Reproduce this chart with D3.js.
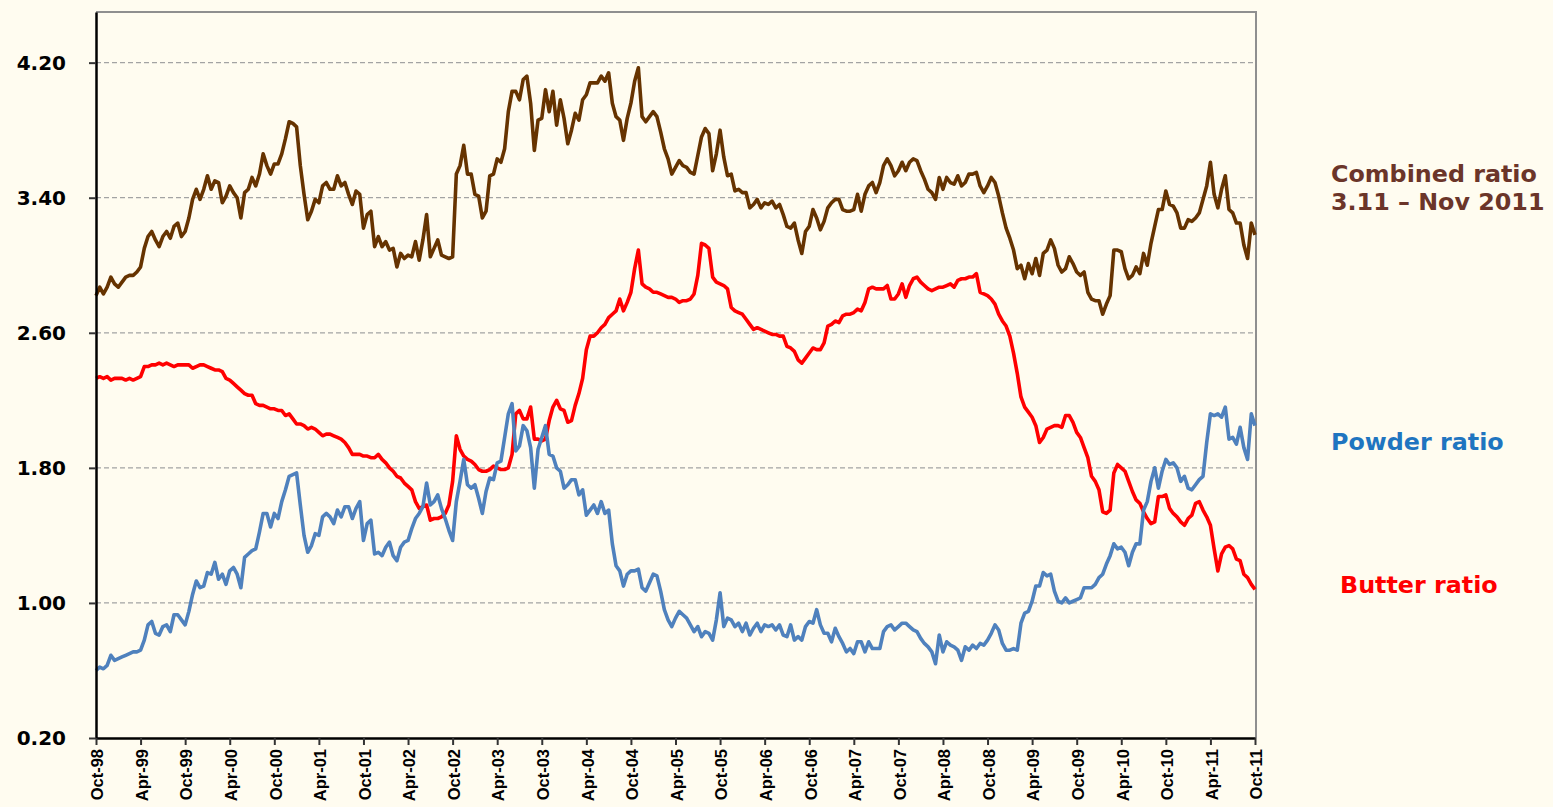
<!DOCTYPE html>
<html>
<head>
<meta charset="utf-8">
<script src="https://cdn.jsdelivr.net/npm/d3@7"></script>
<style>
  body { margin: 0; background: #fffcf0; }
</style>
</head>
<body>
<div id="viz"></div>
<script>
// x axis labels, one every 6 months from Oct-98
var tickLabels = ['Oct-98','Apr-99','Oct-99','Apr-00','Oct-00','Apr-01','Oct-01','Apr-02','Oct-02',
  'Apr-03','Oct-03','Apr-04','Oct-04','Apr-05','Oct-05','Apr-06','Oct-06','Apr-07','Oct-07',
  'Apr-08','Oct-08','Apr-09','Oct-09','Apr-10','Oct-10','Apr-11','Oct-11'];

var yTicks = [0.20, 1.00, 1.80, 2.60, 3.40, 4.20];

// half-monthly readings, Oct-98 .. Oct-11
var combined = [
  2.82,2.87,2.83,2.87,2.93,2.89,2.87,2.90,2.93,2.94,2.94,2.96,
  2.99,3.10,3.17,3.20,3.15,3.11,3.17,3.20,3.16,3.23,3.25,3.17,
  3.20,3.28,3.39,3.45,3.39,3.45,3.53,3.45,3.50,3.49,3.37,3.41,
  3.47,3.43,3.40,3.28,3.43,3.45,3.52,3.47,3.54,3.66,3.59,3.54,
  3.60,3.60,3.66,3.75,3.85,3.84,3.82,3.59,3.42,3.27,3.32,3.39,
  3.37,3.47,3.49,3.45,3.45,3.53,3.47,3.49,3.42,3.36,3.44,3.42,
  3.22,3.30,3.32,3.11,3.17,3.11,3.14,3.09,3.10,2.99,3.07,3.04,
  3.06,3.05,3.14,3.03,3.15,3.30,3.05,3.10,3.15,3.06,3.05,3.04,
  3.05,3.54,3.59,3.71,3.54,3.54,3.42,3.41,3.28,3.32,3.53,3.54,
  3.63,3.61,3.69,3.91,4.03,4.03,3.98,4.10,4.12,3.96,3.68,3.86,
  3.87,4.04,3.91,4.03,3.83,3.98,3.87,3.72,3.80,3.90,3.86,3.98,
  4.01,4.08,4.08,4.08,4.12,4.09,4.14,3.96,3.88,3.86,3.74,3.87,
  3.96,4.09,4.17,3.88,3.85,3.88,3.91,3.88,3.79,3.69,3.63,3.54,
  3.58,3.62,3.59,3.58,3.55,3.54,3.65,3.76,3.81,3.78,3.56,3.66,
  3.80,3.64,3.53,3.54,3.44,3.45,3.43,3.43,3.34,3.36,3.39,3.34,
  3.37,3.36,3.38,3.34,3.36,3.30,3.23,3.22,3.25,3.15,3.07,3.20,
  3.23,3.33,3.28,3.21,3.26,3.34,3.37,3.39,3.39,3.33,3.32,3.32,
  3.33,3.42,3.32,3.42,3.47,3.49,3.43,3.49,3.59,3.63,3.59,3.53,
  3.56,3.61,3.56,3.61,3.63,3.62,3.56,3.51,3.45,3.43,3.39,3.52,
  3.45,3.52,3.49,3.48,3.53,3.47,3.49,3.54,3.54,3.55,3.47,3.43,
  3.47,3.52,3.49,3.41,3.31,3.22,3.16,3.09,2.98,3.00,2.92,3.01,
  2.95,3.04,2.94,3.07,3.09,3.15,3.10,3.00,2.96,2.98,3.05,3.01,
  2.96,2.94,2.96,2.84,2.80,2.79,2.79,2.71,2.77,2.82,3.09,3.09,
  3.08,2.98,2.92,2.94,2.99,2.95,3.07,3.00,3.13,3.23,3.33,3.33,
  3.44,3.36,3.35,3.31,3.22,3.22,3.27,3.26,3.28,3.31,3.39,3.47,
  3.61,3.42,3.34,3.45,3.53,3.33,3.31,3.25,3.25,3.12,3.04,3.25,
  3.18];

var butter = [
  2.33,2.34,2.33,2.34,2.32,2.33,2.33,2.33,2.32,2.33,2.32,2.33,
  2.34,2.40,2.40,2.41,2.41,2.42,2.41,2.42,2.41,2.40,2.41,2.41,
  2.41,2.41,2.39,2.40,2.41,2.41,2.40,2.39,2.38,2.38,2.37,2.33,
  2.32,2.30,2.28,2.26,2.24,2.23,2.23,2.18,2.17,2.17,2.16,2.15,
  2.15,2.14,2.14,2.11,2.12,2.09,2.06,2.06,2.05,2.03,2.04,2.03,
  2.01,1.99,2.00,2.00,1.99,1.98,1.97,1.95,1.92,1.88,1.88,1.88,
  1.87,1.87,1.86,1.86,1.88,1.85,1.83,1.80,1.78,1.75,1.74,1.71,
  1.69,1.67,1.60,1.56,1.57,1.58,1.49,1.50,1.50,1.51,1.53,1.58,
  1.72,1.99,1.91,1.87,1.85,1.84,1.82,1.79,1.78,1.78,1.79,1.81,
  1.80,1.79,1.79,1.80,1.88,2.12,2.14,2.09,2.09,2.16,1.97,1.97,
  1.96,1.97,2.08,2.16,2.20,2.15,2.14,2.07,2.08,2.17,2.24,2.33,
  2.50,2.58,2.58,2.60,2.63,2.65,2.69,2.71,2.73,2.80,2.73,2.78,
  2.84,2.98,3.09,2.89,2.87,2.86,2.84,2.84,2.83,2.82,2.81,2.81,
  2.80,2.78,2.79,2.79,2.80,2.83,2.94,3.13,3.12,3.10,2.93,2.90,
  2.89,2.88,2.86,2.75,2.73,2.72,2.71,2.68,2.65,2.62,2.63,2.62,
  2.61,2.60,2.59,2.59,2.58,2.58,2.52,2.51,2.49,2.44,2.42,2.45,
  2.48,2.51,2.50,2.50,2.54,2.64,2.65,2.67,2.66,2.70,2.71,2.71,
  2.72,2.74,2.73,2.78,2.86,2.87,2.86,2.86,2.86,2.88,2.80,2.80,
  2.83,2.89,2.81,2.88,2.92,2.93,2.90,2.88,2.86,2.85,2.86,2.87,
  2.87,2.88,2.89,2.87,2.91,2.92,2.92,2.93,2.93,2.95,2.84,2.83,
  2.82,2.80,2.77,2.71,2.67,2.64,2.58,2.48,2.36,2.22,2.16,2.13,
  2.10,2.05,1.95,1.98,2.03,2.04,2.05,2.05,2.04,2.11,2.11,2.07,
  2.01,1.98,1.92,1.86,1.75,1.72,1.67,1.54,1.53,1.55,1.77,1.82,
  1.80,1.78,1.72,1.66,1.61,1.59,1.54,1.50,1.47,1.48,1.63,1.63,
  1.64,1.56,1.53,1.51,1.48,1.46,1.50,1.52,1.59,1.60,1.55,1.51,
  1.46,1.32,1.19,1.29,1.33,1.34,1.32,1.26,1.25,1.17,1.15,1.11,
  1.08];

var powder = [
  0.60,0.62,0.61,0.63,0.69,0.66,0.67,0.68,0.69,0.70,0.71,0.71,
  0.72,0.78,0.87,0.89,0.82,0.81,0.86,0.87,0.83,0.93,0.93,0.90,
  0.87,0.95,1.05,1.13,1.09,1.10,1.18,1.17,1.24,1.14,1.17,1.11,
  1.19,1.21,1.17,1.09,1.27,1.29,1.31,1.32,1.42,1.53,1.53,1.45,
  1.53,1.50,1.60,1.67,1.75,1.76,1.77,1.58,1.40,1.30,1.34,1.41,
  1.40,1.51,1.53,1.51,1.47,1.55,1.51,1.57,1.57,1.50,1.56,1.60,
  1.37,1.47,1.49,1.29,1.30,1.28,1.33,1.36,1.28,1.25,1.33,1.36,
  1.37,1.44,1.50,1.53,1.57,1.71,1.58,1.60,1.64,1.56,1.50,1.43,
  1.37,1.60,1.72,1.85,1.70,1.68,1.70,1.62,1.53,1.66,1.74,1.73,
  1.83,1.84,1.98,2.12,2.18,1.90,1.93,2.05,2.02,1.92,1.68,1.91,
  1.98,2.05,1.88,1.87,1.80,1.78,1.68,1.70,1.73,1.73,1.64,1.67,
  1.52,1.55,1.58,1.53,1.60,1.53,1.55,1.35,1.22,1.19,1.10,1.17,
  1.19,1.19,1.20,1.09,1.07,1.12,1.17,1.16,1.07,0.96,0.90,0.86,
  0.91,0.95,0.93,0.91,0.87,0.83,0.86,0.80,0.83,0.82,0.78,0.90,
  1.06,0.86,0.91,0.90,0.86,0.88,0.83,0.88,0.81,0.85,0.88,0.83,
  0.87,0.86,0.87,0.84,0.87,0.81,0.80,0.87,0.78,0.80,0.78,0.86,
  0.89,0.88,0.96,0.87,0.82,0.82,0.77,0.85,0.80,0.76,0.71,0.73,
  0.70,0.77,0.77,0.71,0.77,0.73,0.73,0.73,0.83,0.86,0.87,0.84,
  0.86,0.88,0.88,0.86,0.84,0.83,0.79,0.76,0.74,0.71,0.64,0.81,
  0.71,0.77,0.75,0.74,0.72,0.66,0.74,0.72,0.75,0.73,0.76,0.75,
  0.78,0.82,0.87,0.84,0.76,0.72,0.72,0.73,0.72,0.88,0.94,0.95,
  1.01,1.10,1.10,1.18,1.16,1.17,1.07,1.01,1.00,1.03,1.00,1.01,
  1.02,1.03,1.09,1.09,1.09,1.11,1.15,1.17,1.23,1.28,1.35,1.32,
  1.33,1.30,1.22,1.30,1.35,1.35,1.55,1.60,1.72,1.80,1.68,1.78,
  1.85,1.82,1.83,1.80,1.72,1.75,1.68,1.67,1.70,1.73,1.75,1.95,
  2.12,2.11,2.12,2.10,2.16,1.97,1.98,1.94,2.04,1.92,1.85,2.12,
  2.05];

var width = 1553,
    height = 807,
    plotLeft = 96,
    plotRight = 1256,
    plotTop = 12,
    plotBottom = 738;

// months since Oct-98 for each reading
var months = combined.map(function(d, i) { return i / 2; });

var xScale = d3.scaleLinear()
  .domain([0, 156])
  .range([plotLeft, 1255]);

var yScale = d3.scaleLinear()
  .domain([0.2, 4.5])
  .range([plotBottom, plotTop]);

var svg = d3.select('#viz').append('svg')
  .attr('width', width)
  .attr('height', height)
  .style('background', '#fffcf0');

// dashed gridlines
svg.append('g').selectAll('line')
  .data(yTicks.slice(1))
  .enter().append('line')
    .attr('x1', plotLeft)
    .attr('x2', plotRight)
    .attr('y1', function(d) { return yScale(d); })
    .attr('y2', function(d) { return yScale(d); })
    .attr('stroke', '#a3a3a3')
    .attr('stroke-width', 1.2)
    .attr('stroke-dasharray', '5,3');

// top and right frame
svg.append('path')
  .attr('d', 'M' + plotLeft + ',' + plotTop + 'H' + plotRight + 'V' + plotBottom)
  .attr('fill', 'none')
  .attr('stroke', '#8f8f8f')
  .attr('stroke-width', 2);

var line = d3.line()
  .x(function(d, i) { return xScale(months[i]); })
  .y(function(d) { return yScale(d); });

var series = [
  { values: butter, color: '#ff0000' },
  { values: powder, color: '#4f81bd' },
  { values: combined, color: '#663300' }
];

svg.append('g').selectAll('path')
  .data(series)
  .enter().append('path')
    .attr('d', function(d) { return line(d.values); })
    .attr('fill', 'none')
    .attr('stroke', function(d) { return d.color; })
    .attr('stroke-width', 3.6)
    .attr('stroke-linejoin', 'round');

// y axis
var yAxis = svg.append('g')
  .attr('transform', 'translate(' + plotLeft + ',0)')
  .call(d3.axisLeft(yScale)
    .tickValues(yTicks)
    .tickFormat(d3.format('.2f'))
    .tickSize(7)
    .tickSizeOuter(0)
    .tickPadding(23));

yAxis.select('.domain').attr('stroke', '#000').attr('stroke-width', 2.5);
yAxis.selectAll('.tick line').attr('stroke', '#333').attr('stroke-width', 2);
yAxis.selectAll('text')
  .style('font-family', '"DejaVu Sans", Verdana, sans-serif')
  .style('font-weight', 'bold')
  .style('font-size', '20px')
  .attr('fill', '#000');

// x axis
var xAxis = svg.append('g')
  .attr('transform', 'translate(0,' + plotBottom + ')')
  .call(d3.axisBottom(xScale)
    .tickValues(d3.range(0, 157, 6))
    .tickFormat(function(d, i) { return tickLabels[i]; })
    .tickSize(7)
    .tickSizeOuter(0));

xAxis.select('.domain').attr('stroke', '#000').attr('stroke-width', 2.5);
xAxis.selectAll('.tick line').attr('stroke', '#333').attr('stroke-width', 2);
xAxis.selectAll('text')
  .attr('transform', 'rotate(-90)')
  .attr('text-anchor', 'end')
  .attr('x', -11)
  .attr('y', 1)
  .attr('dy', '0.35em')
  .style('font-family', '"Liberation Sans", Arial, sans-serif')
  .style('font-weight', 'bold')
  .style('font-size', '16.5px')
  .attr('fill', '#000');

// labels on the right
var notes = [
  { text: 'Combined ratio', x: 1331, y: 182, color: '#6b3529' },
  { text: '3.11 \u2013 Nov 2011', x: 1331, y: 210, color: '#6b3529' },
  { text: 'Powder ratio', x: 1331, y: 450, color: '#1f75c0' },
  { text: 'Butter ratio', x: 1340, y: 593, color: '#ff0000' }
];

svg.append('g').selectAll('text')
  .data(notes)
  .enter().append('text')
    .attr('x', function(d) { return d.x; })
    .attr('y', function(d) { return d.y; })
    .attr('fill', function(d) { return d.color; })
    .style('font-family', '"DejaVu Sans", Verdana, sans-serif')
    .style('font-weight', 'bold')
    .style('font-size', '23.8px')
    .text(function(d) { return d.text; });
</script>
</body>
</html>
